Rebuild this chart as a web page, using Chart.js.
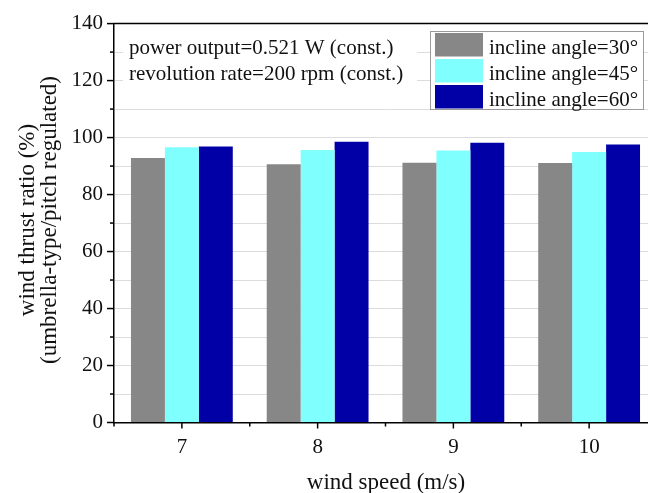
<!DOCTYPE html>
<html>
<head>
<meta charset="utf-8">
<script src="https://cdn.jsdelivr.net/npm/chart.js@4"></script>
<style>
  html, body { margin: 0; padding: 0; background: #fff; overflow: hidden; }
  #wrap { width: 680px; height: 493px; }
</style>
</head>
<body>
<div id="wrap"><canvas id="myChart" width="680" height="493"></canvas></div>
<script>
// data

const windSpeeds = ['7', '8', '9', '10'];
const angle30 = [92.8, 90.6, 91.2, 91.1];
const angle45 = [96.6, 95.6, 95.5, 94.9];
const angle60 = [96.9, 98.5, 98.2, 97.6];
const seriesNames = ['incline angle=30\u00b0', 'incline angle=45\u00b0', 'incline angle=60\u00b0'];
const noteLines = ['power output=0.521 W (const.)', 'revolution rate=200 rpm (const.)'];
const yTitle = ['wind thrust ratio (%)', '(umbrella-type/pitch regulated)'];
const xTitle = 'wind speed (m/s)';

const FONT = '"Liberation Serif", "Times New Roman", serif';
const ctx = document.getElementById("myChart").getContext('2d');

// extra drawing: frame, tick marks, titles, note, legend
const decor = {
    id: 'decor',
    afterDraw(chart) {
        const c = chart.ctx;
        const a = chart.chartArea;
        const xs = chart.scales.x;
        const ys = chart.scales.y;
        c.save();
        c.strokeStyle = '#000';
        c.lineWidth = 1.5;

        // top frame
        c.beginPath();
        c.moveTo(a.left, a.top);
        c.lineTo(a.right, a.top);
        c.stroke();

        // y ticks (major every 20, minor every 10)
        for (let v = 0; v <= 140; v += 10) {
            const py = ys.getPixelForValue(v);
            const len = v % 20 === 0 ? 7 : 4;
            c.beginPath();
            c.moveTo(a.left - len, py);
            c.lineTo(a.left, py);
            c.stroke();
        }

        // x ticks (major at categories, minor between)
        const step = xs.getPixelForTick(1) - xs.getPixelForTick(0);
        windSpeeds.forEach((s, i) => {
            const px = xs.getPixelForTick(i);
            c.beginPath();
            c.moveTo(px, a.bottom);
            c.lineTo(px, a.bottom + 6);
            c.stroke();
            const mx = px - step / 2;
            c.beginPath();
            c.moveTo(mx, a.bottom);
            c.lineTo(mx, a.bottom + 4);
            c.stroke();
        });

        c.fillStyle = '#111';
        // x title
        c.font = '23px ' + FONT;
        c.textAlign = 'center';
        c.textBaseline = 'alphabetic';
        c.fillText(xTitle, (a.left + a.right - 23) / 2 + 12, 489);

        // y title, two lines rotated
        c.save();
        c.translate(33.5, 220);
        c.rotate(-Math.PI / 2);
        c.fillText(yTitle[0], 0, 0);
        c.restore();
        c.save();
        c.translate(56, 220);
        c.rotate(-Math.PI / 2);
        c.fillText(yTitle[1], 0, 0);
        c.restore();

        // note box
        c.fillStyle = '#fff';
        c.fillRect(123, 29, 294, 66);
        c.fillStyle = '#111';
        c.font = '21px ' + FONT;
        c.textAlign = 'left';
        c.fillText(noteLines[0], 129, 54);
        c.fillText(noteLines[1], 129, 80);

        // legend box
        c.fillStyle = '#fff';
        c.fillRect(430, 31, 214, 79);
        c.strokeStyle = '#9a9a9a';
        c.lineWidth = 1;
        c.strokeRect(430.5, 31.5, 213, 78);
        chart.data.datasets.forEach((ds, i) => {
            const top = 33 + i * 26;
            c.fillStyle = ds.backgroundColor;
            c.fillRect(435, top, 48, 23.5);
            c.fillStyle = '#111';
            c.fillText(ds.label, 489, top + 20.5);
        });
        c.restore();
    }
};

let thrustChart = new Chart(ctx, {
    type: 'bar',
    data: {
        labels: windSpeeds,
        datasets: [
            { label: seriesNames[0], data: angle30, backgroundColor: '#878787' },
            { label: seriesNames[1], data: angle45, backgroundColor: '#80FFFF' },
            { label: seriesNames[2], data: angle60, backgroundColor: '#0000A6' }
        ]
    },
    options: {
        responsive: false,
        animation: false,
        categoryPercentage: 0.75,
        barPercentage: 1.0,
        layout: { padding: { left: 0, top: 22, right: 23, bottom: 0 } },
        plugins: { legend: { display: false }, tooltip: { enabled: false } },
        scales: {
            x: {
                offset: true,
                grid: { color: 'rgba(0,0,0,0)', drawTicks: false },
                border: { display: true, color: '#000', width: 1.5 },
                ticks: { color: '#111', font: { family: FONT, size: 21 }, padding: 12 },
                afterFit: (scale) => { scale.height = 70.5; }
            },
            y: {
                min: 0,
                max: 140,
                grid: {
                    drawTicks: false,
                    color: (c) => (c.tick && (c.tick.value === 0 || c.tick.value === 140)) ? 'rgba(0,0,0,0)' : '#dcdcdc'
                },
                border: { display: true, color: '#000', width: 1.5 },
                ticks: {
                    stepSize: 10,
                    color: '#111',
                    font: { family: FONT, size: 21 },
                    padding: 11,
                    callback: (v) => v % 20 === 0 ? v : ''
                },
                afterFit: (scale) => { scale.width = 114; }
            }
        }
    },
    plugins: [decor]
});
</script>
</body>
</html>
